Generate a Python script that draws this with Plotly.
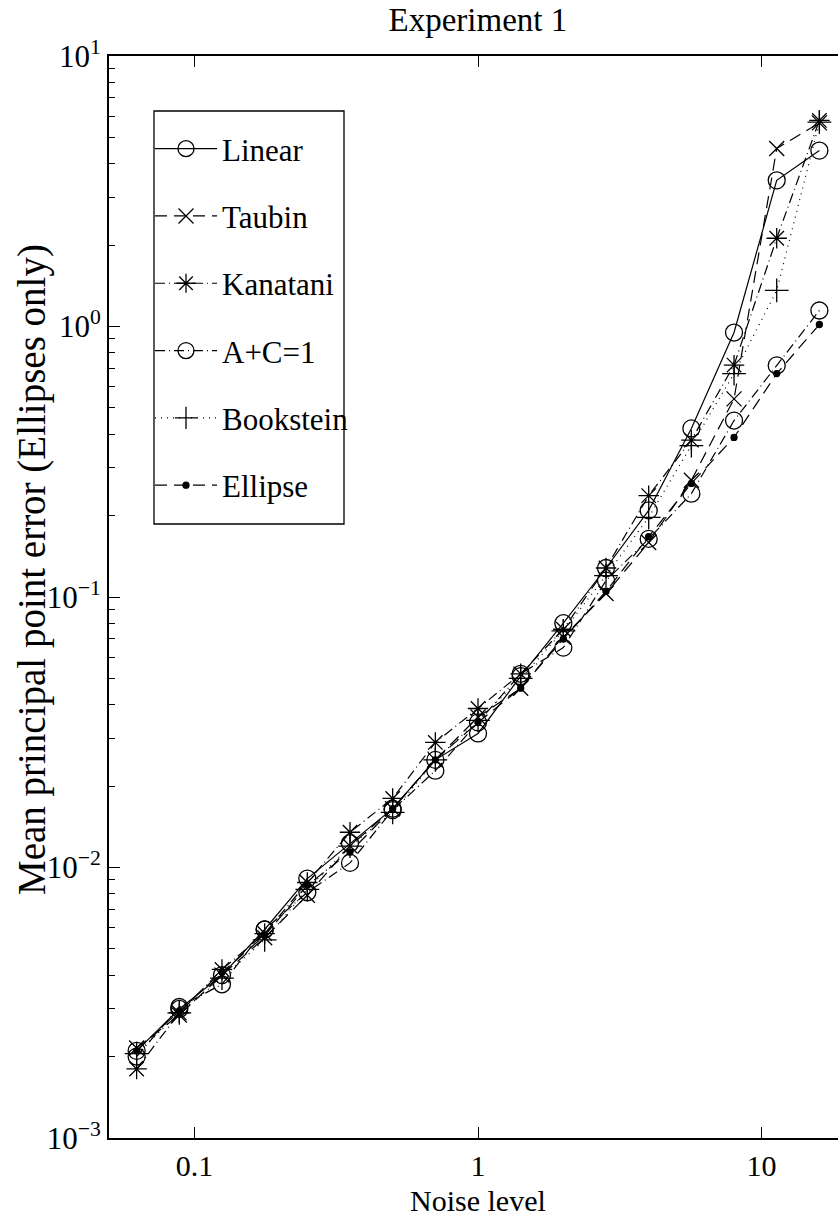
import plotly.graph_objects as go

noise = [0.0625, 0.0884, 0.125, 0.1768, 0.25, 0.3536, 0.5, 0.7071, 1.0,
         1.4142, 2.0, 2.8284, 4.0, 5.6569, 8.0, 11.314, 16.0]

linear = [2.1e-3, 3.0e-3, 4.0e-3, 5.9e-3, 9.1e-3, 1.23e-2, 1.65e-2, 2.5e-2, 3.13e-2,
          5.1e-2, 8.0e-2, 0.128, 0.209, 0.42, 0.95, 3.47, 4.47]
taubin = [2.15e-3, 2.85e-3, 4.0e-3, 5.5e-3, 7.9e-3, 1.2e-2, 1.65e-2, 2.5e-2, 3.6e-2,
          4.6e-2, 7.1e-2, 0.103, 0.159, 0.27, 0.54, 4.55, 5.66]
kanatani = [1.8e-3, 2.9e-3, 4.2e-3, 5.7e-3, 8.8e-3, 1.35e-2, 1.8e-2, 2.9e-2, 3.87e-2,
            5.2e-2, 7.6e-2, 0.128, 0.237, 0.38, 0.72, 2.12, 5.78]
apc1 = [2.0e-3, 3.05e-3, 3.7e-3, 5.9e-3, 8.1e-3, 1.04e-2, 1.63e-2, 2.28e-2, 3.44e-2,
        5.2e-2, 6.5e-2, 0.115, 0.164, 0.241, 0.449, 0.718, 1.146]
bookstein = [2.05e-3, 2.9e-3, 3.9e-3, 5.4e-3, 8.3e-3, 1.2e-2, 1.6e-2, 2.5e-2, 3.5e-2,
             5.0e-2, 7.5e-2, 0.12, 0.197, 0.363, 0.67, 1.36, 5.7]
ellipse = [2.1e-3, 2.95e-3, 4.1e-3, 5.6e-3, 8.6e-3, 1.14e-2, 1.65e-2, 2.5e-2, 3.44e-2,
           4.6e-2, 7.0e-2, 0.105, 0.167, 0.263, 0.389, 0.67, 1.017]

series_names = ["Linear", "Taubin", "Kanatani", "A+C=1", "Bookstein", "Ellipse"]
series_values = [linear, taubin, kanatani, apc1, bookstein, ellipse]

x_tickvals = [0.1, 1, 10]
x_ticktext = ["0.1", "1", "10"]
y_tickvals = [1e-3, 1e-2, 1e-1, 1, 10]
y_ticktext = ["10<sup>\u22123</sup>", "10<sup>\u22122</sup>", "10<sup>\u22121</sup>",
              "10<sup>0</sup>", "10<sup>1</sup>"]
y_minorvals = [m * 10.0 ** e for e in (-3, -2, -1, 0) for m in range(2, 10)]

styles = [
    dict(dash="solid", symbol="circle-open", size=17),
    dict(dash="12px,7px", symbol="x-thin-open", size=15),
    dict(dash="10px,4px,1px,4px", symbol="asterisk-open", size=17),
    dict(dash="10px,4px,1px,4px", symbol="circle-open", size=17),
    dict(dash="1px,5px", symbol="cross-thin-open", size=17),
    dict(dash="12px,7px", symbol="circle", size=6),
]

FONT = "Liberation Serif, Times New Roman, serif"
W, H = 838, 1217
L, T, B = 109, 56, 1138
PW, PH = W - L, B - T

def px(xp):
    return (xp - L) / PW

def py(yp):
    return 1 - (yp - T) / PH

fig = go.Figure()
for i, (name, vals, st) in enumerate(zip(series_names, series_values, styles)):
    fig.add_trace(go.Scatter(
        x=noise, y=vals, name=name, mode="lines+markers",
        legendgroup=f"g{i}",
        line=dict(color="black", width=1.2, dash=st["dash"]),
        marker=dict(symbol=st["symbol"], size=st["size"], color="black",
                    line=dict(color="black", width=1.3)),
    ))

# legend frame (MATLAB-style box, text may overflow it)
fig.add_shape(type="rect", xref="paper", yref="paper",
              x0=px(154), x1=px(344), y0=py(524), y1=py(111),
              line=dict(color="black", width=1.3), fillcolor="white", layer="above")

fig.update_layout(
    width=W, height=H,
    margin=dict(l=L, r=0, t=T, b=H - B),
    paper_bgcolor="white", plot_bgcolor="white",
    font=dict(family=FONT, size=31, color="black"),
    title=dict(text="Experiment 1", x=0.506, xref="paper", xanchor="center",
               y=1 - 19 / H, yref="container", yanchor="middle",
               font=dict(family=FONT, size=33, color="black")),
    showlegend=True,
    legend=dict(x=px(150), y=py(122), xanchor="left", yanchor="top",
                borderwidth=0, bgcolor="rgba(0,0,0,0)",
                font=dict(family=FONT, size=31, color="black"),
                tracegroupgap=24, itemwidth=62),
    xaxis=dict(type="log", range=[-1.3016, 1.2698],
               tickvals=x_tickvals, ticktext=x_ticktext,
               ticks="inside", ticklen=11, tickwidth=1, tickcolor="black",
               showline=True, linecolor="black", linewidth=2, mirror="ticks",
               showgrid=False, zeroline=False,
               tickfont=dict(family=FONT, size=30)),
    yaxis=dict(type="log", range=[-3, 1],
               tickvals=y_tickvals, ticktext=y_ticktext,
               ticks="inside", ticklen=11, tickwidth=1, tickcolor="black",
               minor=dict(tickvals=y_minorvals, ticks="inside", ticklen=6,
                          tickcolor="black", tickwidth=1, showgrid=False),
               showline=True, linecolor="black", linewidth=2, mirror=False,
               showgrid=False, zeroline=False,
               tickfont=dict(family=FONT, size=31)),
    annotations=[
        dict(text="Noise level", xref="paper", yref="paper",
             x=px(478), y=py(1200), xanchor="center", yanchor="middle",
             showarrow=False, font=dict(family=FONT, size=30, color="black")),
        dict(text="Mean principal point error (Ellipses only)", xref="paper", yref="paper",
             x=px(32), y=py(570), xanchor="center", yanchor="middle", textangle=-90,
             showarrow=False, font=dict(family=FONT, size=39, color="black")),
    ],
)

fig.write_html("out.html")
